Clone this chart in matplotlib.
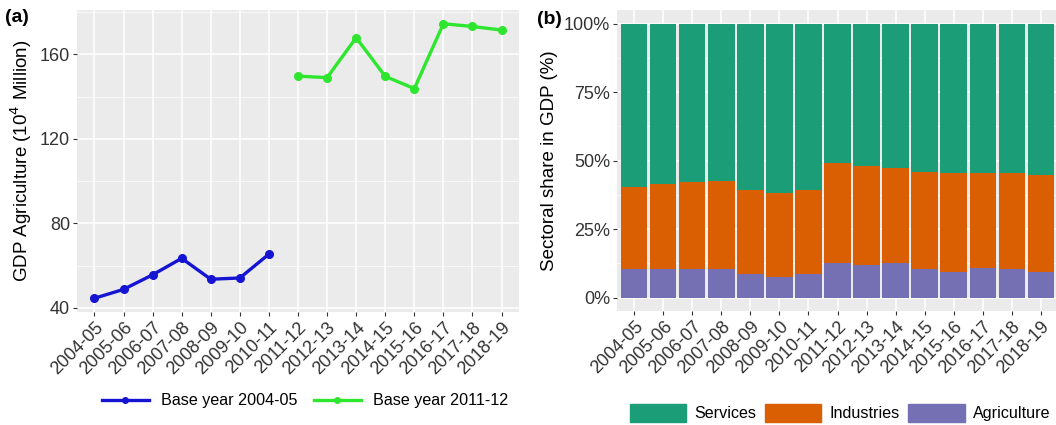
import matplotlib
matplotlib.use("Agg")
import matplotlib.pyplot as plt
import numpy as np
from matplotlib.ticker import MultipleLocator, FuncFormatter
from matplotlib.patches import Patch
from matplotlib.lines import Line2D

plt.rcParams['font.family'] = ['Liberation Sans', 'DejaVu Sans']

years = ["2004-05", "2005-06", "2006-07", "2007-08", "2008-09", "2009-10", "2010-11",
         "2011-12", "2012-13", "2013-14", "2014-15", "2015-16", "2016-17", "2017-18", "2018-19"]

# Agricultural GDP (10^4 million) by base year
gdp_base_2004 = [44.6, 48.8, 55.7, 63.5, 53.6, 54.2, 65.5]
gdp_base_2011 = [149.7, 149.0, 167.9, 149.6, 143.8, 174.5, 173.2, 171.5]

# Sectoral shares of GDP (%)
share_agriculture = [10.6, 10.4, 10.4, 10.6, 8.6, 7.7, 8.6, 12.8, 12.0, 12.5, 10.6, 9.5, 10.8, 10.4, 9.5]
share_industries = [29.8, 31.0, 31.9, 32.0, 30.8, 30.4, 30.7, 36.2, 36.1, 34.7, 35.3, 36.0, 34.7, 35.1, 35.2]
share_services = [100 - a - i for a, i in zip(share_agriculture, share_industries)]

W, H = 1056, 425
fig = plt.figure(figsize=(W / 100, H / 100), dpi=100)

BG = "#EBEBEB"
TXT = "#333333"
BLUE = "#1414D2"
GREEN = "#2EE62E"


def px_axes(x0, y0, x1, y1):
    return fig.add_axes([x0 / W, 1 - y1 / H, (x1 - x0) / W, (y1 - y0) / H])


def gg_style(ax):
    ax.set_facecolor(BG)
    for s in ax.spines.values():
        s.set_visible(False)
    ax.grid(True, which='major', color='white', linewidth=1.1)
    ax.grid(True, which='minor', axis='y', color='white', linewidth=0.5)
    ax.set_axisbelow(True)
    ax.tick_params(axis='both', which='major', length=3, width=0.8, color=TXT,
                   labelsize=13, labelcolor=TXT, pad=2)
    ax.tick_params(axis='both', which='minor', length=0)
    ax.tick_params(axis='x', which='minor', bottom=False)


x = np.arange(len(years))

# Panel (a): agricultural GDP
ax1 = px_axes(77, 10, 519, 312)
gg_style(ax1)
ax1.plot(x[:len(gdp_base_2004)], gdp_base_2004, color=BLUE, lw=2.4, marker='o', ms=5.5)
ax1.plot(x[len(gdp_base_2004):], gdp_base_2011, color=GREEN, lw=2.4, marker='o', ms=5.5)
ax1.set_xlim(-0.6, len(years) - 0.4)
ax1.set_ylim(38.1, 181)
ax1.yaxis.set_major_locator(MultipleLocator(40))
ax1.yaxis.set_minor_locator(MultipleLocator(20))
ax1.set_xticks(x)
ax1.set_xticklabels(years, rotation=45, ha='right', rotation_mode='anchor')
ax1.set_ylabel("GDP Agriculture (10$^4$ Million)", fontsize=13.5, color='black', labelpad=4)

fig.legend(
    handles=[Line2D([], [], color=BLUE, lw=2.4, marker='o', ms=4),
             Line2D([], [], color=GREEN, lw=2.4, marker='o', ms=4)],
    labels=["Base year 2004-05", "Base year 2011-12"],
    loc='center', bbox_to_anchor=(305 / W, 1 - 401 / H), ncol=2, frameon=False,
    fontsize=11.6, handlelength=2.9, columnspacing=1.05, handletextpad=0.75,
    borderpad=0, borderaxespad=0)

# Panel (b): sectoral shares
ax2 = px_axes(617, 10, 1058, 311.4)
gg_style(ax2)
agri = np.array(share_agriculture) / 100
ind = np.array(share_industries) / 100
serv = np.array(share_services) / 100
ax2.bar(x, agri, width=0.9, color="#7570B3")
ax2.bar(x, ind, width=0.9, bottom=agri, color="#D95F02")
ax2.bar(x, serv, width=0.9, bottom=agri + ind, color="#1B9E77")
ax2.set_xlim(-0.6, len(years) - 0.4)
ax2.set_ylim(-0.05, 1.05)
ax2.yaxis.set_major_locator(MultipleLocator(0.25))
ax2.yaxis.set_minor_locator(MultipleLocator(0.125))
ax2.yaxis.set_major_formatter(FuncFormatter(lambda v, p: f"{v * 100:.0f}%"))
ax2.set_xticks(x)
ax2.set_xticklabels(years, rotation=45, ha='right', rotation_mode='anchor')
ax2.set_ylabel("Sectoral share in GDP (%)", fontsize=13.5, color='black', labelpad=4)

fig.legend(
    handles=[Patch(color="#1B9E77"), Patch(color="#D95F02"), Patch(color="#7570B3")],
    labels=["Services", "Industries", "Agriculture"],
    loc='center', bbox_to_anchor=(840 / W, 1 - 413 / H), ncol=3, frameon=False,
    fontsize=11.6, handlelength=3.5, handleheight=1.25, columnspacing=0.55,
    handletextpad=0.5, borderpad=0, borderaxespad=0)

fig.text(5 / W, 1 - 18 / H, "(a)", fontsize=14, fontweight='bold', va='center', ha='left')
fig.text(537 / W, 1 - 20 / H, "(b)", fontsize=14, fontweight='bold', va='center', ha='left')

fig.savefig("out.png", dpi=100)
